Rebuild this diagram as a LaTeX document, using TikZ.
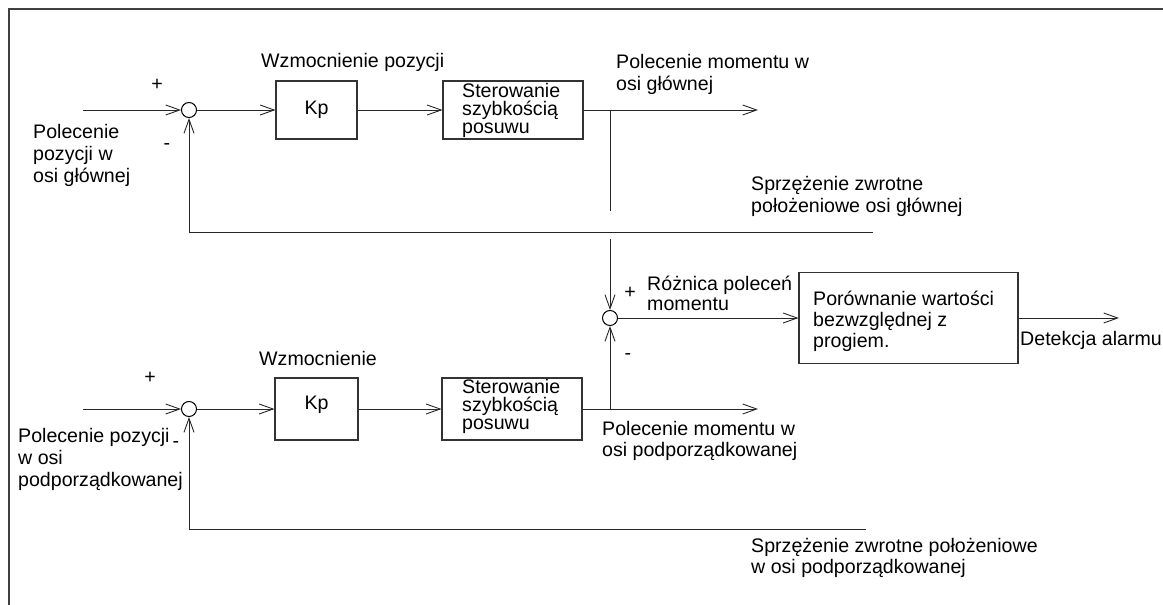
\documentclass[tikz,border=0pt]{standalone}
\usepackage{fontspec}
\setmainfont{Liberation Sans}
\usetikzlibrary{arrows.meta}
\begin{document}
\begin{tikzpicture}[x=1pt,y=-1pt,
  wire/.style={line width=0.9pt, draw=black!85},
  flow/.style={wire, -{Straight Barb[length=14pt,width=10pt,line width=0.9pt]}},
  blk/.style={draw=black!80, line width=1.1pt, fill=white, inner sep=0pt,
              font=\fontsize{19.6}{22}\selectfont},
  sumpt/.style={circle, draw=black, line width=1pt, minimum size=15pt, inner sep=0pt},
  lbl/.style={inner sep=0pt, anchor=west, align=left, font=\fontsize{19.6}{22}\selectfont},
  lbltight/.style={lbl, font=\fontsize{19.6}{18}\selectfont},
  lblmid/.style={lbl, font=\fontsize{19.6}{21}\selectfont},
  sgn/.style={inner sep=0pt, font=\fontsize{19.6}{22}\selectfont}]
\useasboundingbox (0,0) rectangle (1163,605);

% outer frame (only top and left edges fall inside the page)
\draw[line width=1.3pt, draw=black!75] (9,640) -- (9,9) -- (1200,9);

% ---------- master axis loop ----------
\node[lbl] (wz1) at (261,62) {Wzmocnienie pozycji};
\node[sumpt] (s1) at (189,110) {};
\node[blk, minimum width=81pt, minimum height=58pt] (kp1) at (316.5,110) {Kp};
\node[blk, minimum width=140pt, minimum height=58pt] (st1) at (513,110) {};
\node[lbltight] (st1t) at (462,110.5) {Sterowanie\\szybkością\\posuwu};
\node[lbl] (in1t) at (33,155) {Polecenie\\pozycji w\\osi głównej};
\node[sgn] (p1) at (157,85) {+};
\node[sgn] (m1) at (167,147) {-};
\node[lbl] (o1t) at (616,74) {Polecenie momentu w\\osi głównej};
\node[lbl] (f1t) at (751,196) {Sprzężenie zwrotne\\położeniowe osi głównej};

\coordinate (in1) at (83,110);
\coordinate (o1) at (758,110);
\coordinate (j1) at (610,110);
\coordinate (j1e) at (610,211);
\coordinate (f1a) at (873,232);
\coordinate (f1b) at (189,232);
\coordinate (d1) at (610,239);

\draw[flow] (in1) -- (s1);
\draw[flow] (s1) -- (kp1);
\draw[flow] (kp1) -- (st1);
\draw[flow] (st1.east) -- (o1);
\draw[wire] (j1) -- (j1e);
\draw[flow] (f1a) -- (f1b) -- (s1);

% ---------- comparison of torque commands ----------
\node[sumpt] (s2) at (610,318) {};
\node[sgn] (p2) at (630,293) {+};
\node[sgn] (m2) at (628,357) {-};
\node[lbl, font=\fontsize{19.6}{20}\selectfont] (dt) at (647,293) {Różnica poleceń\\momentu};
\node[blk, minimum width=219pt, minimum height=91pt] (cmp) at (908.5,318) {};
\node[lblmid] (cmpt) at (813,321) {Porównanie wartości\\bezwzględnej z\\progiem.};
\node[lbl] (alt) at (1020,340) {Detekcja alarmu};
\coordinate (al) at (1119,318);

\draw[flow] (d1) -- (s2);
\draw[flow] (s2) -- (cmp);
\draw[flow] (cmp) -- (al);

% ---------- slave axis loop ----------
\node[lbl] (wz2) at (259,358) {Wzmocnienie};
\node[sumpt] (s3) at (189,409) {};
\node[blk, minimum width=83pt, minimum height=62pt, text depth=13pt] (kp2) at (316.5,409) {Kp};
\node[blk, minimum width=140pt, minimum height=62pt] (st2) at (512,409) {};
\node[lbltight] (st2t) at (462,406.5) {Sterowanie\\szybkością\\posuwu};
\node[sgn] (p3) at (150,378) {+};
\node[sgn] (m3) at (176,445) {-};
\node[lbl] (in2t) at (18,459) {Polecenie pozycji\\w osi\\podporządkowanej};
\node[lblmid] (o2t) at (602,441) {Polecenie momentu w\\osi podporządkowanej};
\node[lblmid] (f2t) at (751,557.5) {Sprzężenie zwrotne położeniowe\\w osi podporządkowanej};

\coordinate (in2) at (83,409);
\coordinate (o2) at (758,409);
\coordinate (j2) at (610,409);
\coordinate (f2a) at (866,529);
\coordinate (f2b) at (189,529);

\draw[flow] (in2) -- (s3);
\draw[flow] (s3) -- (kp2);
\draw[flow] (kp2) -- (st2);
\draw[flow] (st2.east) -- (o2);
\draw[flow] (j2) -- (s2);
\draw[flow] (f2a) -- (f2b) -- (s3);
\end{tikzpicture}
\end{document}
